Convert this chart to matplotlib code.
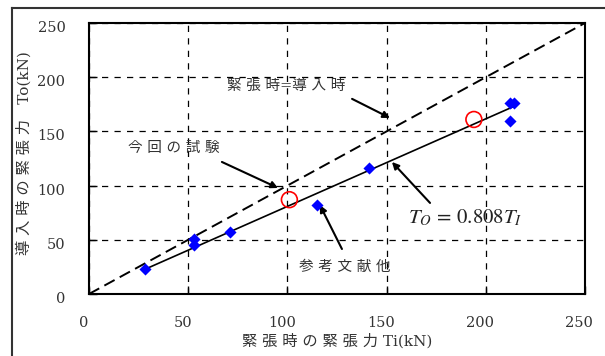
import matplotlib.pyplot as plt
from matplotlib.lines import Line2D
from matplotlib.transforms import ScaledTranslation

# Data
ref_ti = [28, 53, 53, 71, 115, 141, 212, 214, 212]   # 参考文献他
ref_to = [23, 51, 45, 57, 82, 116, 176, 176, 160]
test_ti = [101, 194]                                   # 今回の試験
test_to = [87, 161]
fit_x = [28, 214]
slope = 0.808
equal_x = [0, 250]
ticks = [0, 50, 100, 150, 200, 250]

# serif for latin, CJK falls back to Noto
fam = ['DejaVu Serif', 'Noto Sans CJK JP']
txt_col = '#333333'

fig = plt.figure(figsize=(6.05, 3.56), dpi=100)
ax = fig.add_axes([0.1471, 0.1742, 0.8198, 0.7612])

# outer frame (left and top edges)
fig.add_artist(Line2D([0.0198, 0.0198], [0, 0.978], transform=fig.transFigure,
                      color='#333333', lw=1.5))
fig.add_artist(Line2D([0.0198, 1.0], [0.978, 0.978], transform=fig.transFigure,
                      color='#333333', lw=1.5))

# Ti = To line
ax.plot(equal_x, equal_x, color='black', lw=1.4, ls=(0, (6, 3)), zorder=2)
# fitted line
ax.plot(fit_x, [slope * v for v in fit_x], color='black', lw=1.2, zorder=3)

ax.scatter(ref_ti, ref_to, marker='D', s=38, color='blue', zorder=4, linewidths=0)
ax.scatter(test_ti, test_to, marker='o', s=130, facecolors='none',
           edgecolors='red', linewidths=1.2, zorder=4)

ax.set_xlim(0, 250)
ax.set_ylim(0, 250)
ax.set_xticks(ticks)
ax.set_yticks(ticks)
ax.grid(True, color='black', ls=(0, (5, 5)), lw=0.9)
ax.tick_params(direction='in', length=6, width=1, labelsize=10.5)
ax.tick_params(axis='x', pad=16)
ax.tick_params(axis='y', pad=17)
for lab in ax.get_xticklabels():
    lab.set_family(fam)
    lab.set_color(txt_col)
    lab.set_transform(lab.get_transform() +
                      ScaledTranslation(-4 / 72, 0, fig.dpi_scale_trans))
for lab in ax.get_yticklabels():
    lab.set_family(fam)
    lab.set_color(txt_col)
    lab.set_transform(lab.get_transform() +
                      ScaledTranslation(0, -2.5 / 72, fig.dpi_scale_trans))
for sp in ax.spines.values():
    sp.set_linewidth(1.5)

ax.set_xlabel('緊 張 時 の 緊 張 力 Ti(kN)', family=fam, fontsize=11,
              color=txt_col, labelpad=2)
ax.set_ylabel('導 入 時 の 緊 張 力　To(kN)', family=fam, fontsize=11,
              color=txt_col)
ax.yaxis.set_label_coords(-0.115, 0.52)

# annotation texts
ax.text(99.3, 192, '緊 張 時=導 入 時', ha='center', va='center', family=fam,
        fontsize=10.5, color=txt_col)
ax.text(42.6, 134.5, '今 回 の 試 験', ha='center', va='center', family=fam,
        fontsize=10.5, color=txt_col)
ax.text(129, 25, '参 考 文 献 他', ha='center', va='center', family=fam,
        fontsize=10.5, color=txt_col)
ax.text(189.5, 70, r'$T_O\,=\,0.808T_I$', ha='center', va='center', fontsize=15,
        color='#222222', math_fontfamily='stix')

# arrows (tail -> tip)
arrows = [((132.6, 180), (151.7, 162.4)),
          ((67, 121.8), (95.3, 97.8)),
          ((127.5, 41.5), (116.4, 82)),
          ((171.9, 84), (152.7, 121.8))]
for tail, tip in arrows:
    ax.annotate('', xy=tip, xytext=tail,
                arrowprops=dict(arrowstyle='-|>', color='black', lw=1.5,
                                mutation_scale=10, shrinkA=0, shrinkB=0))

fig.savefig('out.png', dpi=100)
